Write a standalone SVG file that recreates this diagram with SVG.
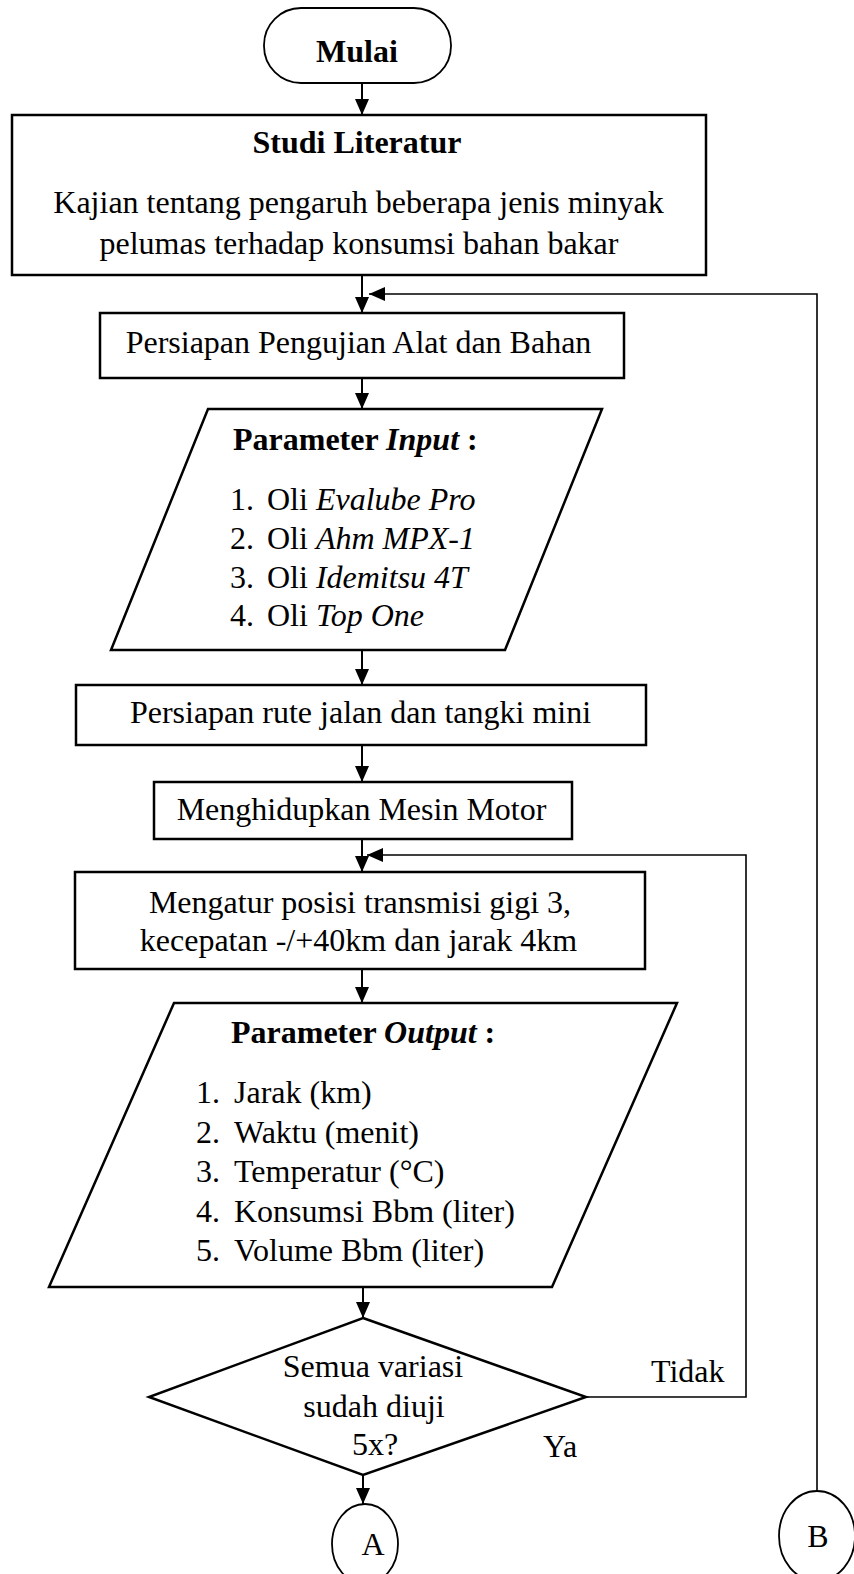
<svg xmlns="http://www.w3.org/2000/svg" width="854" height="1574" viewBox="0 0 854 1574">
  <style>
    .shape { fill: #ffffff; stroke: #000000; stroke-width: 2.5; }
    .thin { fill: #ffffff; stroke: #000000; stroke-width: 1.8; }
    .link { fill: none; stroke: #000000; stroke-width: 2; }
    .loop { fill: none; stroke: #000000; stroke-width: 1.6; }
    text { font-family: "Liberation Serif", "Times New Roman", serif; font-size: 32px; fill: #000000; }
    .c { text-anchor: middle; }
    .b { font-weight: bold; }
    .i { font-style: italic; }
  </style>
  <defs>
    <marker id="arrow" viewBox="0 0 16 14" refX="16" refY="7" markerWidth="16" markerHeight="14" markerUnits="userSpaceOnUse" orient="auto">
      <path d="M0,0 L16,7 L0,14 z" fill="#000000"/>
    </marker>
  </defs>

  <!-- connectors -->
  <g id="connectors">
    <path class="link" d="M362,83 V115" marker-end="url(#arrow)"/>
    <path class="link" d="M362,275 V313" marker-end="url(#arrow)"/>
    <path class="link" d="M362,378 V409" marker-end="url(#arrow)"/>
    <path class="link" d="M362,650 V685" marker-end="url(#arrow)"/>
    <path class="link" d="M362,745 V782" marker-end="url(#arrow)"/>
    <path class="link" d="M362,839 V872" marker-end="url(#arrow)"/>
    <path class="link" d="M362,969 V1003" marker-end="url(#arrow)"/>
    <path class="link" d="M363,1287 V1318" marker-end="url(#arrow)"/>
    <path class="link" d="M363,1475 V1504" marker-end="url(#arrow)"/>
    <path class="loop" d="M817,1491 V294 H369" marker-end="url(#arrow)"/>
    <path class="loop" d="M586,1397 H746 V855 H367" marker-end="url(#arrow)"/>
  </g>

  <!-- start terminal -->
  <g id="mulai">
    <rect class="thin" x="264" y="8" width="187" height="75" rx="37" ry="37"/>
    <text class="c b" x="357" y="62">Mulai</text>
  </g>

  <g id="studi-literatur">
    <rect class="shape" x="12" y="115" width="694" height="160"/>
    <text class="c b" x="357" y="153">Studi Literatur</text>
    <text class="c" x="358.5" y="213">Kajian tentang pengaruh beberapa jenis minyak</text>
    <text class="c" x="359" y="254">pelumas terhadap konsumsi bahan bakar</text>
  </g>

  <g id="persiapan-alat">
    <rect class="shape" x="100" y="313" width="524" height="65"/>
    <text class="c" x="358.5" y="353">Persiapan Pengujian Alat dan Bahan</text>
  </g>

  <g id="parameter-input">
    <polygon class="shape" points="208,409 602,409 505,650 111,650"/>
    <text class="b" x="233" y="450">Parameter <tspan class="i">Input</tspan> :</text>
    <text x="230" y="510">1.</text><text x="267" y="510">Oli <tspan class="i">Evalube Pro</tspan></text>
    <text x="230" y="549">2.</text><text x="267" y="549">Oli <tspan class="i">Ahm MPX-1</tspan></text>
    <text x="230" y="588">3.</text><text x="267" y="588">Oli <tspan class="i">Idemitsu 4T</tspan></text>
    <text x="230" y="626">4.</text><text x="267" y="626">Oli <tspan class="i">Top One</tspan></text>
  </g>

  <g id="persiapan-rute">
    <rect class="shape" x="76" y="685" width="570" height="60"/>
    <text class="c" x="360.5" y="723">Persiapan rute jalan dan tangki mini</text>
  </g>

  <g id="mesin">
    <rect class="shape" x="154" y="782" width="418" height="57"/>
    <text class="c" x="361.5" y="820">Menghidupkan Mesin Motor</text>
  </g>

  <g id="mengatur">
    <rect class="shape" x="75" y="872" width="570" height="97"/>
    <text class="c" x="360" y="913">Mengatur posisi transmisi gigi 3,</text>
    <text class="c" x="358.5" y="951">kecepatan -/+40km dan jarak 4km</text>
  </g>

  <g id="parameter-output">
    <polygon class="shape" points="174,1003 677,1003 552,1287 49,1287"/>
    <text class="b" x="231" y="1043">Parameter <tspan class="i">Output</tspan> :</text>
    <text x="196" y="1103">1.</text><text x="234" y="1103">Jarak (km)</text>
    <text x="196" y="1143">2.</text><text x="234" y="1143">Waktu (menit)</text>
    <text x="196" y="1182">3.</text><text x="234" y="1182">Temperatur (°C)</text>
    <text x="196" y="1222">4.</text><text x="234" y="1222">Konsumsi Bbm (liter)</text>
    <text x="196" y="1261">5.</text><text x="234" y="1261">Volume Bbm (liter)</text>
  </g>

  <g id="keputusan">
    <polygon class="shape" points="363,1318 586,1397 363,1475 149,1397"/>
    <text class="c" x="373" y="1377">Semua variasi</text>
    <text class="c" x="374" y="1417">sudah diuji</text>
    <text class="c" x="375" y="1455">5x?</text>
  </g>

  <g id="label-tidak">
    <text x="651" y="1382">Tidak</text>
  </g>
  <g id="label-ya">
    <text x="543" y="1457">Ya</text>
  </g>

  <g id="konektor-a">
    <ellipse class="thin" cx="365" cy="1544" rx="33" ry="40"/>
    <text class="c" x="373" y="1555">A</text>
  </g>

  <g id="konektor-b">
    <ellipse class="thin" cx="817" cy="1536" rx="38" ry="45"/>
    <text class="c" x="818" y="1547">B</text>
  </g>
</svg>
